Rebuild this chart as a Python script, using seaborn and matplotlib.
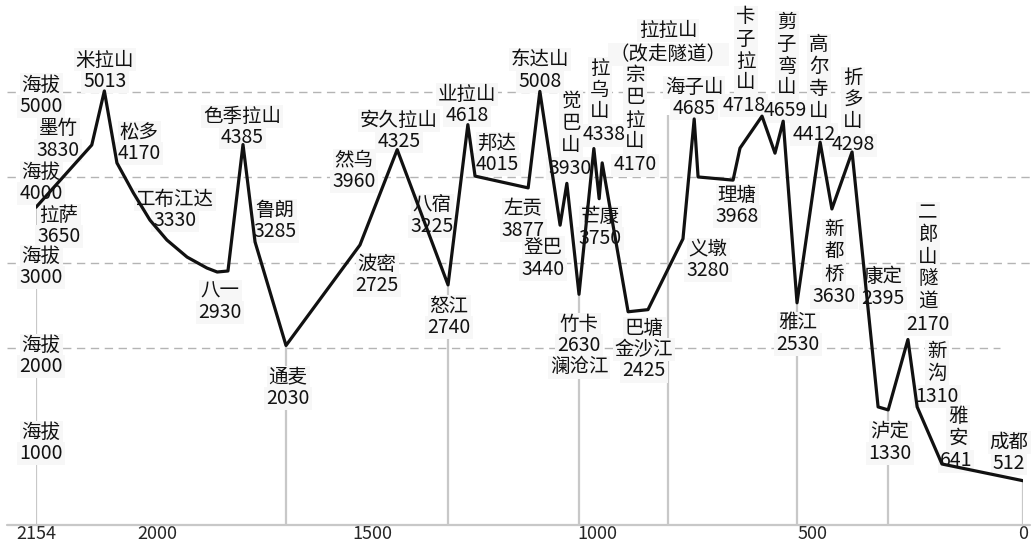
import numpy as np
import pandas as pd
import seaborn as sns
import matplotlib
matplotlib.use("Agg")
import matplotlib.pyplot as plt
from matplotlib.patches import Rectangle


# road profile: km left to Chengdu, elevation (m) as drawn
route_km = [2154, 2083, 2067, 2051, 2030, 2009, 1977, 1930, 1884, 1860, 1835,
            1800, 1772, 1700, 1528, 1444, 1331, 1287, 1271, 1153, 1127, 1082,
            1067, 1040, 1007, 995, 988, 928, 882, 801, 775, 766, 685, 669,
            618, 588, 569, 537, 483, 455, 407, 345, 321, 274, 252, 193, 0]
route_elev = [3650, 4380, 5013, 4170, 3817, 3500, 3266, 3066, 2938, 2891, 2903,
              4385, 3244, 2030, 3208, 4325, 2740, 4618, 4015, 3877, 5008, 3440,
              3930, 2630, 4338, 3750, 4170, 2425, 2450, 3280, 4685, 4005, 3968, 4343,
              4718, 4284, 4659, 2530, 4412, 3630, 4298, 1310, 1275, 2100, 1310, 641, 445]

# station labels and their elevations
station_names = ["拉萨", "墨竹", "米拉山", "松多", "工布江达", "八一", "色季拉山", "鲁朗",
                 "通麦", "波密", "然乌", "安久拉山", "八宿", "怒江", "业拉山", "邦达",
                 "左贡", "东达山", "登巴", "觉巴山", "竹卡", "拉乌山", "芒康", "宗巴拉山",
                 "巴塘", "义墩", "海子山", "理塘", "卡子拉山", "剪子弯山", "雅江",
                 "高尔寺山", "新都桥", "折多山", "康定", "泸定", "二郎山隧道", "新沟",
                 "雅安", "成都"]
station_elev = [3650, 3830, 5013, 4170, 3330, 2930, 4385, 3285,
                2030, 2725, 3960, 4325, 3225, 2740, 4618, 4015,
                3877, 5008, 3440, 3930, 2630, 4338, 3750, 4170,
                2425, 3280, 4685, 3968, 4718, 4659, 2530,
                4412, 3630, 4298, 2395, 1330, 2170, 1310,
                641, 512]
river_after_name = {"巴塘": "金沙江"}
river_after_value = {"竹卡": "澜沧江"}
note_lines = ["拉拉山", "（改走隧道）"]

# x axis ticks
tick_km = [0, 500, 1000, 1500, 2000, 2154]
# altitude guide lines
grid_elev = [5000, 4000, 3000, 2000]
side_elev = [5000, 4000, 3000, 2000, 1000]

# gray drop lines (km, top elevation)
drop_km = [2154, 1700, 1331, 1040, 836, 537, 321, 0]
drop_top = [3650, 2030, 2740, 2630, 4730, 2530, 1275, 445]

W, H = 1032, 543
# pixel layout of labels: centre x, first line centre y, vertical name, value dx
label_pos = {
    "拉萨": (59, 215, False, 0), "墨竹": (58, 129, False, 0), "米拉山": (105, 60, False, 0),
    "松多": (139, 132, False, 0), "工布江达": (175, 199, False, 0), "八一": (220, 291, False, 0),
    "色季拉山": (242, 116, False, 0), "鲁朗": (275, 210, False, 0), "通麦": (288, 377, False, 0),
    "波密": (377, 264, False, 0), "然乌": (354, 160, False, 0), "安久拉山": (399, 120, False, 0),
    "八宿": (432, 205, False, 0), "怒江": (449, 306, False, 0), "业拉山": (467, 94, False, 0),
    "邦达": (497, 143, False, 0), "左贡": (523, 209, False, 0), "东达山": (540, 60, False, 0),
    "登巴": (543, 248, False, 0), "觉巴山": (571, 101, True, -1), "竹卡": (579, 324, False, 0),
    "拉乌山": (600, 68, True, 4), "芒康": (600, 217, False, 0), "宗巴拉山": (635, 76, True, 0),
    "巴塘": (644, 328, False, 0), "义墩": (708, 249, False, 0), "海子山": (694, 87, False, 0),
    "理塘": (737, 195, False, 0), "卡子拉山": (746, 17, True, -2), "剪子弯山": (787, 22, True, -2),
    "雅江": (798, 323, False, 0), "高尔寺山": (819, 45, True, -5), "新都桥": (834, 230, True, 0),
    "折多山": (853, 78, True, 0), "康定": (883, 277, False, 0), "泸定": (890, 432, False, 0),
    "二郎山隧道": (928, 213, True, 0), "新沟": (937, 351, True, 0), "雅安": (958, 416, True, -2),
    "成都": (1009, 442, False, 0),
}
note_pos = (668, 30)
side_pos_y = [85, 172, 256, 345, 432]
step_h, step_v = 21.5, 22.0

sns.set_style("white")
plt.rcParams['font.family'] = ['Noto Sans CJK SC', 'DejaVu Sans']

fig = plt.figure(figsize=(W / 100, H / 100), dpi=100)
ax = fig.add_axes([36 / W, (H - 525) / H, (1023 - 36) / W, 525 / H])

df = pd.DataFrame({"km": route_km, "elev": route_elev})
sns.lineplot(data=df, x="km", y="elev", sort=False, estimator=None,
             color="#111111", lw=2.3, ax=ax, zorder=4)

# the distance axis in the picture is not evenly spaced
tick_off = [0, 210, 426, 651, 866, 987]
ax.set_xscale("function", functions=(lambda v: np.interp(v, tick_km, tick_off),
                                     lambda u: np.interp(u, tick_off, tick_km)))
ax.set_xlim(2154, 0)
ymin, ymax = -74, 6079
ax.set_ylim(ymin, ymax)

for y in grid_elev:
    xmax = 0.977 if y == 2000 else 1.009
    ax.axhline(y, xmin=-0.029, xmax=xmax, color="#b4b4b4", lw=1,
               ls=(0, (6, 4)), clip_on=False, zorder=1)
ax.vlines(drop_km, ymin, drop_top, color="#c8c8c8", lw=1.6, zorder=1)
ax.axhline(ymin, xmin=-0.029, xmax=1.007, color="#c8c8c8", lw=1.6,
           clip_on=False, zorder=1)

fs = 14
labels = []


def put(px, py, s):
    t = ax.text(px / W, 1 - py / H, s, transform=fig.transFigure, ha="center",
                va="center", fontsize=fs, color="#111111", zorder=2, clip_on=False)
    labels.append(t)


for name, val in zip(station_names, station_elev):
    cx, y, vert, dx = label_pos[name]
    if vert:
        for ch in name:
            put(cx, y, ch)
            y += step_v
        y += 1
    else:
        put(cx, y, name)
        y += step_h
    if name in river_after_name:
        put(cx, y, river_after_name[name])
        y += step_h
    put(cx + dx, y, str(val))
    if name in river_after_value:
        put(cx, y + step_h, river_after_value[name])

put(note_pos[0], note_pos[1], note_lines[0])
put(note_pos[0], note_pos[1] + 24, note_lines[1])

for y, py in zip(side_elev, side_pos_y):
    put(41, py, "海拔")
    put(41, py + step_h, str(y))

ax.set_xticks(tick_km)
ax.set_xticklabels([str(k) for k in tick_km])
ax.tick_params(axis="x", length=0, pad=0, labelsize=13)
ax.set_yticks([])
ax.set_xlabel("")
ax.set_ylabel("")
sns.despine(ax=ax, left=True, bottom=True)

# pale boxes behind the labels, under every text and the profile
fig.canvas.draw()
rend = fig.canvas.get_renderer()
for t in labels:
    bb = t.get_window_extent(rend)
    ax.add_patch(Rectangle(((bb.x0 - 2) / W, (bb.y0 - 1) / H),
                           (bb.width + 4) / W, (bb.height + 2) / H,
                           transform=fig.transFigure, facecolor="#f7f7f7",
                           edgecolor="none", zorder=1.5, clip_on=False))

fig.savefig("out.png", dpi=100)
